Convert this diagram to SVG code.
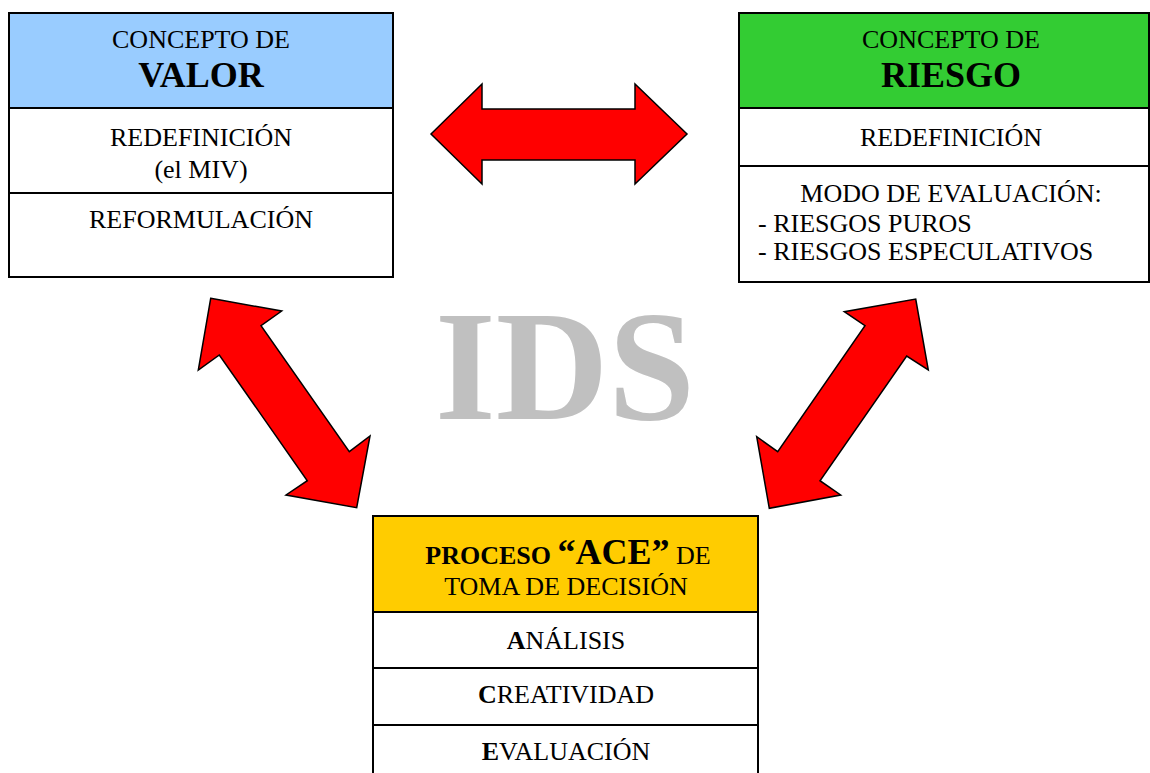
<svg xmlns="http://www.w3.org/2000/svg" width="1150" height="773" viewBox="0 0 1150 773">
<style>
.box{fill:#ffffff;stroke:#000000;stroke-width:2}
.ln{stroke:#000000;stroke-width:2}
.t{font-family:"Liberation Serif","Times New Roman",serif;font-size:26px;fill:#000000}
.c{text-anchor:middle}
.b{font-weight:bold}
.big{font-size:36px}
.arrow{fill:#ff0000;stroke:#000000;stroke-width:1.5;stroke-linejoin:miter}
</style>
<rect width="1150" height="773" fill="#ffffff"/>
<text x="565" y="419" text-anchor="middle" font-family="Liberation Serif, Times New Roman, serif" font-weight="bold" font-size="156" fill="#c0c0c0">IDS</text>
<g id="connectors">
<polygon class="arrow" points="431,134 482,84 482,109 635,109 635,84 687,134 635,184 635,160 482,160 482,184"/>
<polygon class="arrow" points="210.7,298.3 281.7,311 261,325.7 349.3,451.7 370,436 356.7,507.7 286,495 307.3,480.7 219.3,355 198.3,370"/>
<polygon class="arrow" points="915.7,299 928.3,370 906.7,356 820,480.7 840.7,495 769.3,508.3 756.7,436.7 777.7,451.7 865,325.7 844.3,311.7"/>
</g>
<g id="valor">
<rect class="box" x="9" y="13" width="384" height="264"/>
<rect x="9" y="13" width="384" height="95" fill="#99ccff" stroke="#000000" stroke-width="2"/>
<line class="ln" x1="9" y1="193" x2="393" y2="193"/>
<text class="t c" x="201" y="48">CONCEPTO DE</text>
<text class="t c b big" x="201" y="87">VALOR</text>
<text class="t c" x="201" y="146">REDEFINICIÓN</text>
<text class="t c" x="201" y="178">(el MIV)</text>
<text class="t c" x="201" y="228">REFORMULACIÓN</text>
</g>
<g id="riesgo">
<rect class="box" x="739" y="13" width="410" height="269"/>
<rect x="739" y="13" width="410" height="95" fill="#33cc33" stroke="#000000" stroke-width="2"/>
<line class="ln" x1="739" y1="166" x2="1149" y2="166"/>
<text class="t c" x="951" y="48">CONCEPTO DE</text>
<text class="t c b big" x="951" y="87">RIESGO</text>
<text class="t c" x="951" y="146">REDEFINICIÓN</text>
<text class="t c" x="951" y="202">MODO DE EVALUACIÓN:</text>
<text class="t" x="758" y="232">- RIESGOS PUROS</text>
<text class="t" x="758" y="260">- RIESGOS ESPECULATIVOS</text>
</g>
<g id="ace">
<rect class="box" x="373" y="516" width="385" height="270"/>
<rect x="373" y="516" width="385" height="96" fill="#ffcc00" stroke="#000000" stroke-width="2"/>
<line class="ln" x1="373" y1="668" x2="758" y2="668"/>
<line class="ln" x1="373" y1="725" x2="758" y2="725"/>
<text class="t c" x="568" y="564"><tspan class="b">PROCESO </tspan><tspan class="b big">“ACE”</tspan> DE</text>
<text class="t c" x="566" y="595">TOMA DE DECISIÓN</text>
<text class="t c" x="566" y="649"><tspan class="b">A</tspan>NÁLISIS</text>
<text class="t c" x="566" y="703"><tspan class="b">C</tspan>REATIVIDAD</text>
<text class="t c" x="566" y="760"><tspan class="b">E</tspan>VALUACIÓN</text>
</g>
</svg>
